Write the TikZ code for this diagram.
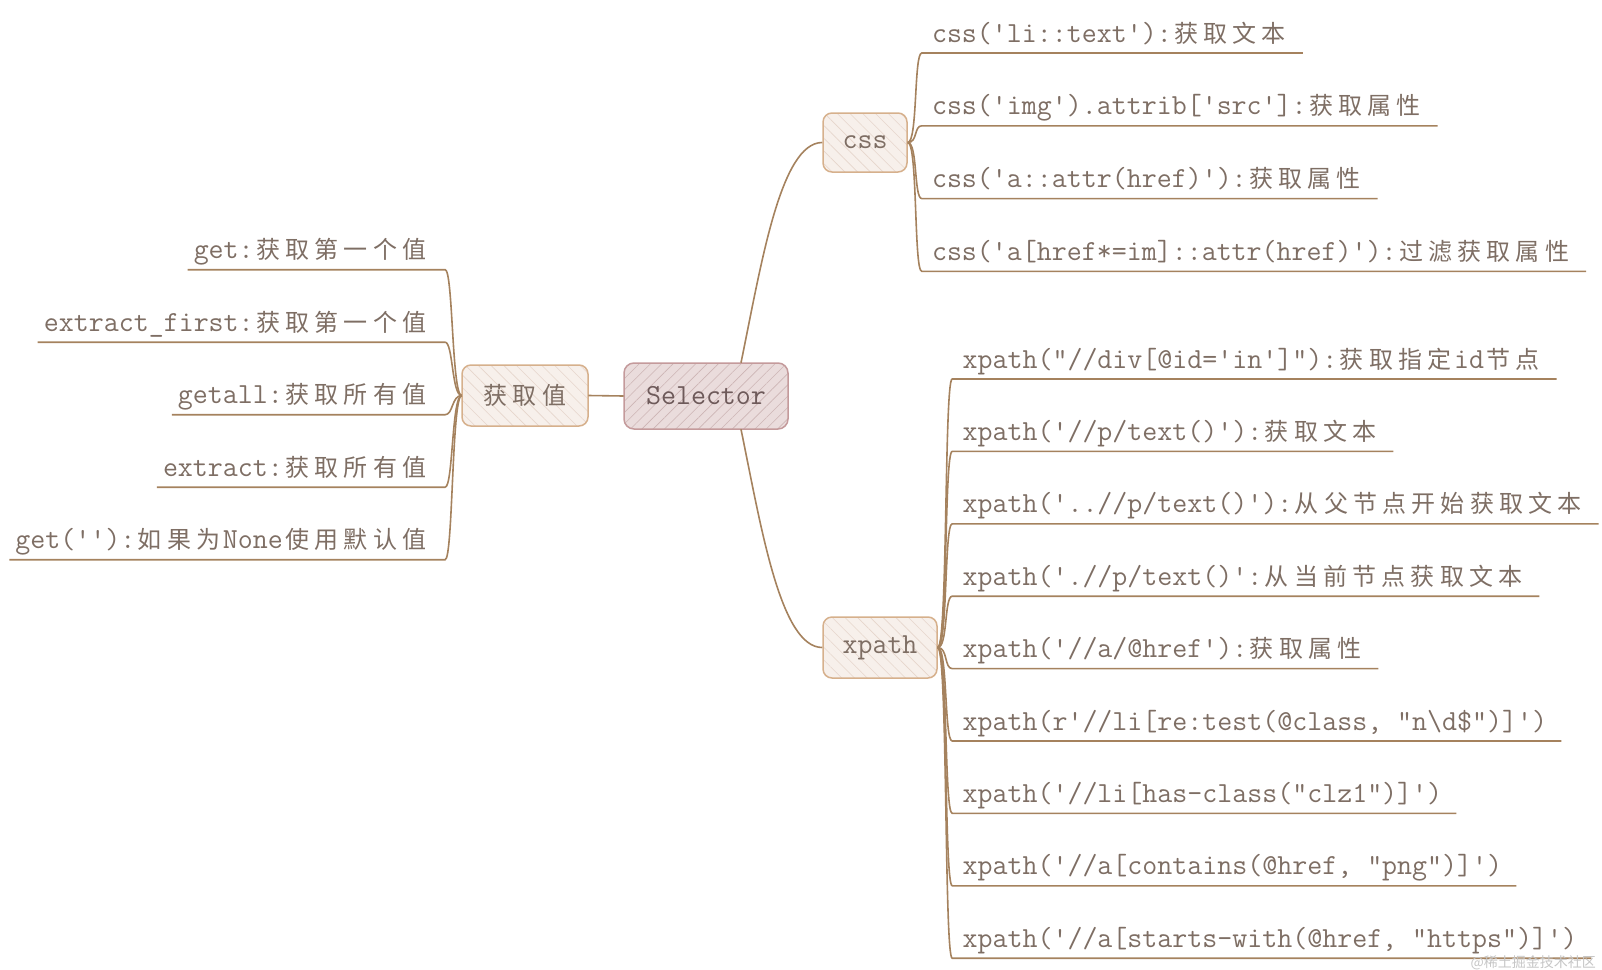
\documentclass[tikz,border=0pt]{standalone}
\usepackage{fontspec}
\newfontfamily\cjkf{Noto Sans CJK SC}
\usetikzlibrary{patterns.meta}
\definecolor{linec}{HTML}{A5825E}
\definecolor{txtc}{HTML}{7E6E64}
\definecolor{boxf}{HTML}{F7F0EB}
\definecolor{boxd}{HTML}{D6B08C}
\definecolor{hatchc}{HTML}{E6D6CC}
\definecolor{rootf}{HTML}{EADCDC}
\definecolor{rootd}{HTML}{C49A9B}
\definecolor{rooth}{HTML}{CDB5B5}
\definecolor{roott}{HTML}{6E5A5A}
\newcommand\mono{\ttfamily\fontsize{29.1}{34}\selectfont}
\newlength\cjkw \setlength\cjkw{29.2pt}
\makeatletter
\def\C#1{\C@loop#1\relax}
\def\C@loop#1{\ifx\relax#1\else\makebox[\cjkw]{\cjkf\fontsize{24}{28}\selectfont#1}\expandafter\C@loop\fi}
\makeatother
\begin{document}
\begin{tikzpicture}[x=1pt,y=-1pt,
  branch/.style={draw=linec, line width=1.6pt},
  leaf/.style={font=\mono, text=txtc, inner sep=0pt},
  topic/.style={rounded corners=9pt, draw=boxd, line width=1.5pt, preaction={fill=boxf},
    pattern={Lines[angle=-45,distance=9pt,line width=0.6pt]}, pattern color=hatchc,
    font=\mono, text=txtc, inner sep=0pt},
  rootbox/.style={rounded corners=10pt, draw=rootd, line width=1.5pt, preaction={fill=rootf},
    pattern={Lines[angle=45,distance=8pt,line width=0.6pt]}, pattern color=rooth,
    font=\mono, text=roott, inner sep=0pt}]
\useasboundingbox (0,0) rectangle (1602,969);

% main topics
\node[rootbox, minimum width=164, minimum height=66] (sel) at (706,396) {Selector};
\node[topic, minimum width=126, minimum height=61] (hq) at (525,395.5) {\C{获取值}};
\node[topic, minimum width=84, minimum height=59] (css) at (865,142.5) {css};
\node[topic, minimum width=114, minimum height=61] (xp) at (880,647.5) {xpath};

\draw[branch] (sel.west) -- (hq.east);
\draw[branch] ([xshift=35pt]sel.north) .. controls +(20,-97) and +(-42,0) .. (css.west);
\draw[branch] ([xshift=35pt]sel.south) .. controls +(20,97) and +(-42,0) .. (xp.west);

% css children
\node[leaf, anchor=base west] (c1) at (931.8,42) {css('li::text'):\C{获取文本}};
\node[leaf, anchor=base west] (c2) at (931.8,114.8) {css('img').attrib['src']:\C{获取属性}};
\node[leaf, anchor=base west] (c3) at (931.8,187.6) {css('a::attr(href)'):\C{获取属性}};
\node[leaf, anchor=base west] (c4) at (931.8,260.4) {css('a[href*=im]::attr(href)'):\C{过滤获取属性}};
\foreach \n in {c1,c2,c3,c4}{
  \draw[branch] (css.east) .. controls +(10,0) and +(-8,0) .. ([shift={(-10,11)}]\n.base west) -- ([shift={(14,11)}]\n.base east);
}

% xpath children
\node[leaf, anchor=base west] (x1) at (962.4,368) {xpath("//div[@id='in']"):\C{获取指定}id\C{节点}};
\node[leaf, anchor=base west] (x2) at (962.4,440.4) {xpath('//p/text()'):\C{获取文本}};
\node[leaf, anchor=base west] (x3) at (962.4,512.8) {xpath('..//p/text()'):\C{从父节点开始获取文本}};
\node[leaf, anchor=base west] (x4) at (962.4,585.2) {xpath('.//p/text()':\C{从当前节点获取文本}};
\node[leaf, anchor=base west] (x5) at (962.4,657.6) {xpath('//a/@href'):\C{获取属性}};
\node[leaf, anchor=base west] (x6) at (962.4,730) {xpath(r'//li[re:test(@class, "n\textbackslash d\$")]')};
\node[leaf, anchor=base west] (x7) at (962.4,802.4) {xpath('//li[has-class("clz1")]')};
\node[leaf, anchor=base west] (x8) at (962.4,874.8) {xpath('//a[contains(@href, "png")]')};
\node[leaf, anchor=base west] (x9) at (962.4,947.2) {xpath('//a[starts-with(@href, "https")]')};
\foreach \n in {x1,x2,x3,x4,x5,x6,x7,x8,x9}{
  \draw[branch] (xp.east) .. controls +(10,0) and +(-8,0) .. ([shift={(-10.2,11)}]\n.base west) -- ([shift={(14,11)}]\n.base east);
}

% left children
\node[leaf, anchor=base east] (l1) at (429.1,258.7) {get:\C{获取第一个值}};
\node[leaf, anchor=base east] (l2) at (429.1,331.2) {extract\_first:\C{获取第一个值}};
\node[leaf, anchor=base east] (l3) at (429.1,403.7) {getall:\C{获取所有值}};
\node[leaf, anchor=base east] (l4) at (429.1,476.2) {extract:\C{获取所有值}};
\node[leaf, anchor=base east] (l5) at (429.1,548.7) {get(''):\C{如果为}None\C{使用默认值}};
\foreach \n in {l1,l2,l3,l4,l5}{
  \draw[branch] (hq.west) .. controls +(-10,0) and +(8,0) .. ([shift={(16,11)}]\n.base east) -- ([shift={(-6,11)}]\n.base west);
}

% watermark
\node[font=\cjkf\fontsize{14}{16}\selectfont, text=gray!45, anchor=base east, inner sep=0pt] (wm) at (1596,967) {@稀土掘金技术社区};
\end{tikzpicture}
\end{document}
